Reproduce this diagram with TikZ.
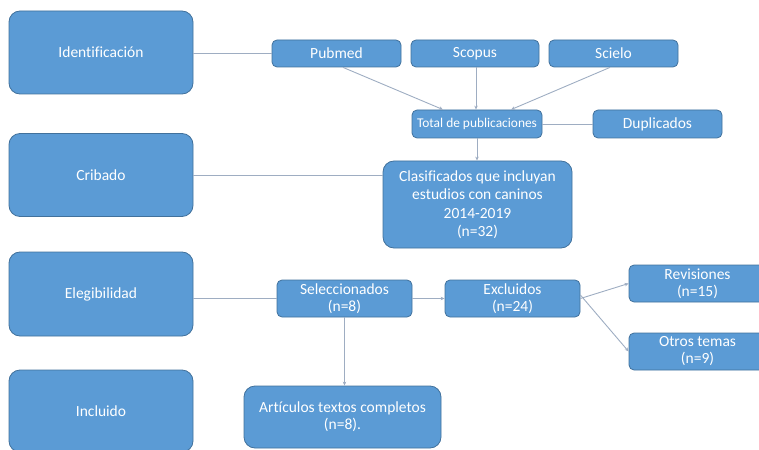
\documentclass[tikz,border=0pt]{standalone}
\usepackage{fontspec}
\setmainfont[Ligatures={NoCommon}]{Carlito}
\usetikzlibrary{arrows.meta}
\definecolor{boxfill}{HTML}{5B9BD5}
\definecolor{boxline}{HTML}{41719C}
\definecolor{conn}{HTML}{9EADC2}
\begin{document}
\begin{tikzpicture}[x=1pt,y=-1pt,
  box/.style={draw=boxline, line width=0.8pt, fill=boxfill, text=white, align=center,
    inner sep=0pt, font=\fontsize{15.5}{18.5}\selectfont},
  bigbox/.style={box, rounded corners=11pt},
  smallbox/.style={box, rounded corners=5pt},
  twoline/.style={font=\fontsize{15.5}{17}\selectfont},
  link/.style={draw=conn, line width=0.9pt},
  arr/.style={link, -{Stealth[length=4pt,width=3.5pt]}}]
\useasboundingbox (0,0) rectangle (759,449);
\clip (0,0) rectangle (759,449);
% stage boxes
\node[bigbox, minimum width=184pt, minimum height=83pt] (ident) at (101,52.5) {Identificación};
\node[bigbox, minimum width=184pt, minimum height=83pt] (crib) at (101,175) {Cribado};
\node[bigbox, minimum width=184pt, minimum height=84pt] (eleg) at (101,294) {Elegibilidad};
\node[bigbox, minimum width=184pt, minimum height=82pt] (incl) at (101,411) {Incluido};
% sources
\node[smallbox, minimum width=129pt, minimum height=27pt] (pub) at (336.5,53.5) {Pubmed};
\node[smallbox, minimum width=128pt, minimum height=27pt] (scop) at (475,53.5) {Scopus};
\node[smallbox, minimum width=129pt, minimum height=27pt] (sciel) at (613.5,53.5) {Scielo};
% total / duplicates
\node[smallbox, minimum width=130pt, minimum height=28pt, font=\fontsize{13.4}{16}\selectfont] (total) at (477,124) {Total de publicaciones};
\node[smallbox, minimum width=129pt, minimum height=28pt] (dup) at (657.5,124) {Duplicados};
% classified
\node[bigbox, minimum width=189pt, minimum height=87pt] (clas) at (477.5,204.5) {Clasificados que incluyan\\estudios con caninos\\2014-2019\\(n=32)};
% eligibility
\node[smallbox, twoline, minimum width=135pt, minimum height=37pt] (sel) at (344.5,298.5) {Seleccionados\\(n=8)};
\node[smallbox, twoline, minimum width=135pt, minimum height=37pt] (exc) at (512.5,298.5) {Excluidos\\(n=24)};
\node[smallbox, twoline, minimum width=137pt, minimum height=37pt] (rev) at (697.5,283.5) {Revisiones\\(n=15)};
\node[smallbox, twoline, minimum width=137pt, minimum height=37pt] (otros) at (697.5,351.5) {Otros temas\\(n=9)};
% included
\node[bigbox, twoline, minimum width=197pt, minimum height=62pt] (art) at (342.5,417) {Artículos textos completos\\(n=8).};
% connectors
\draw[link] (ident.east |- pub.west) -- (pub.west);
\draw[arr] ([xshift=6.5pt]pub.south) -- ([xshift=-34pt]total.north);
\draw[arr] ([xshift=1pt]scop.south) -- ([xshift=1pt]scop.south |- total.north);
\draw[arr] ([xshift=-3.5pt]sciel.south) -- ([xshift=34pt]total.north);
\draw[link] (total.east) -- (dup.west);
\draw[arr] (total.south) -- (total.south |- clas.north);
\draw[link] (crib.east) -- (crib.east -| clas.west);
\draw[link] (sel.west -| eleg.east) -- (sel.west);
\draw[arr] (sel.east) -- (exc.west);
\draw[arr] (sel.south) -- (sel.south |- art.north);
\draw[arr] (exc.east) -- (rev.west);
\draw[arr] ([yshift=3.5pt]exc.east) -- (otros.west);
\end{tikzpicture}
\end{document}
